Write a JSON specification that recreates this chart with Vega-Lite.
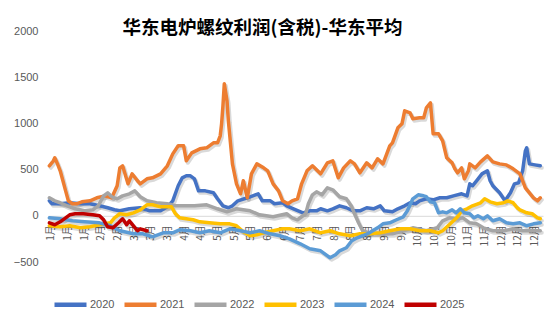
{
  "$schema": "https://vega.github.io/schema/vega-lite/v6.json",
  "width": 495,
  "height": 231,
  "autosize": {"type": "none"},
  "padding": {"left": 48, "top": 31, "right": 7, "bottom": 63},
  "background": "white",
  "title": {"text": "华东电炉螺纹利润(含税)-华东平均", "font": "Noto Sans CJK SC", "fontSize": 18.5, "fontWeight": "bold", "color": "#000000", "anchor": "middle", "dx": -33, "dy": 12, "offset": 0},
  "config": {"view": {"stroke": null}, "font": "Liberation Sans"},
  "data": {"values": [
    {"year":"2020","day":1,"value":162},{"year":"2020","day":3,"value":130},{"year":"2020","day":9,"value":130},{"year":"2020","day":16,"value":141},{"year":"2020","day":24,"value":130},{"year":"2020","day":31,"value":130},{"year":"2020","day":38,"value":108},{"year":"2020","day":44,"value":87},{"year":"2020","day":49,"value":65},{"year":"2020","day":53,"value":54},{"year":"2020","day":60,"value":76},{"year":"2020","day":68,"value":87},{"year":"2020","day":75,"value":54},{"year":"2020","day":83,"value":54},{"year":"2020","day":88,"value":97},{"year":"2020","day":92,"value":162},{"year":"2020","day":96,"value":325},{"year":"2020","day":99,"value":411},{"year":"2020","day":102,"value":433},{"year":"2020","day":105,"value":433},{"year":"2020","day":108,"value":400},{"year":"2020","day":111,"value":270},{"year":"2020","day":116,"value":270},{"year":"2020","day":122,"value":249},{"year":"2020","day":125,"value":184},{"year":"2020","day":129,"value":108},{"year":"2020","day":133,"value":87},{"year":"2020","day":136,"value":108},{"year":"2020","day":140,"value":162},{"year":"2020","day":147,"value":195},{"year":"2020","day":151,"value":216},{"year":"2020","day":155,"value":238},{"year":"2020","day":158,"value":162},{"year":"2020","day":164,"value":162},{"year":"2020","day":167,"value":130},{"year":"2020","day":173,"value":141},{"year":"2020","day":176,"value":108},{"year":"2020","day":181,"value":76},{"year":"2020","day":188,"value":32},{"year":"2020","day":193,"value":54},{"year":"2020","day":198,"value":54},{"year":"2020","day":201,"value":76},{"year":"2020","day":206,"value":54},{"year":"2020","day":210,"value":76},{"year":"2020","day":215,"value":108},{"year":"2020","day":220,"value":87},{"year":"2020","day":225,"value":54},{"year":"2020","day":230,"value":54},{"year":"2020","day":235,"value":87},{"year":"2020","day":240,"value":76},{"year":"2020","day":245,"value":108},{"year":"2020","day":248,"value":54},{"year":"2020","day":254,"value":43},{"year":"2020","day":258,"value":76},{"year":"2020","day":263,"value":108},{"year":"2020","day":267,"value":141},{"year":"2020","day":271,"value":130},{"year":"2020","day":274,"value":162},{"year":"2020","day":279,"value":184},{"year":"2020","day":284,"value":173},{"year":"2020","day":289,"value":195},{"year":"2020","day":294,"value":195},{"year":"2020","day":299,"value":216},{"year":"2020","day":305,"value":238},{"year":"2020","day":309,"value":216},{"year":"2020","day":311,"value":346},{"year":"2020","day":313,"value":325},{"year":"2020","day":316,"value":379},{"year":"2020","day":320,"value":454},{"year":"2020","day":324,"value":487},{"year":"2020","day":326,"value":379},{"year":"2020","day":328,"value":325},{"year":"2020","day":333,"value":249},{"year":"2020","day":337,"value":162},{"year":"2020","day":341,"value":249},{"year":"2020","day":344,"value":346},{"year":"2020","day":347,"value":357},{"year":"2020","day":350,"value":487},{"year":"2020","day":352,"value":703},{"year":"2020","day":353,"value":736},{"year":"2020","day":355,"value":562},{"year":"2020","day":359,"value":551},{"year":"2020","day":363,"value":541},
    {"year":"2021","day":1,"value":541},{"year":"2021","day":4,"value":595},{"year":"2021","day":5,"value":628},{"year":"2021","day":7,"value":562},{"year":"2021","day":9,"value":487},{"year":"2021","day":11,"value":379},{"year":"2021","day":13,"value":270},{"year":"2021","day":15,"value":162},{"year":"2021","day":18,"value":130},{"year":"2021","day":21,"value":130},{"year":"2021","day":25,"value":151},{"year":"2021","day":31,"value":162},{"year":"2021","day":36,"value":195},{"year":"2021","day":42,"value":216},{"year":"2021","day":47,"value":195},{"year":"2021","day":51,"value":325},{"year":"2021","day":53,"value":519},{"year":"2021","day":55,"value":541},{"year":"2021","day":59,"value":346},{"year":"2021","day":62,"value":454},{"year":"2021","day":66,"value":379},{"year":"2021","day":68,"value":346},{"year":"2021","day":73,"value":400},{"year":"2021","day":77,"value":411},{"year":"2021","day":83,"value":454},{"year":"2021","day":88,"value":541},{"year":"2021","day":92,"value":670},{"year":"2021","day":96,"value":757},{"year":"2021","day":100,"value":757},{"year":"2021","day":102,"value":595},{"year":"2021","day":106,"value":681},{"year":"2021","day":112,"value":725},{"year":"2021","day":117,"value":736},{"year":"2021","day":122,"value":790},{"year":"2021","day":125,"value":790},{"year":"2021","day":127,"value":866},{"year":"2021","day":128,"value":995},{"year":"2021","day":129,"value":1190},{"year":"2021","day":130,"value":1428},{"year":"2021","day":132,"value":1244},{"year":"2021","day":133,"value":1028},{"year":"2021","day":136,"value":562},{"year":"2021","day":139,"value":346},{"year":"2021","day":142,"value":238},{"year":"2021","day":144,"value":379},{"year":"2021","day":147,"value":195},{"year":"2021","day":150,"value":454},{"year":"2021","day":154,"value":562},{"year":"2021","day":159,"value":519},{"year":"2021","day":162,"value":487},{"year":"2021","day":166,"value":346},{"year":"2021","day":170,"value":270},{"year":"2021","day":173,"value":162},{"year":"2021","day":177,"value":130},{"year":"2021","day":180,"value":162},{"year":"2021","day":184,"value":184},{"year":"2021","day":187,"value":346},{"year":"2021","day":191,"value":487},{"year":"2021","day":195,"value":541},{"year":"2021","day":201,"value":454},{"year":"2021","day":206,"value":573},{"year":"2021","day":210,"value":595},{"year":"2021","day":214,"value":411},{"year":"2021","day":218,"value":519},{"year":"2021","day":223,"value":595},{"year":"2021","day":226,"value":562},{"year":"2021","day":230,"value":465},{"year":"2021","day":235,"value":573},{"year":"2021","day":239,"value":519},{"year":"2021","day":243,"value":617},{"year":"2021","day":247,"value":562},{"year":"2021","day":252,"value":757},{"year":"2021","day":254,"value":790},{"year":"2021","day":258,"value":952},{"year":"2021","day":261,"value":995},{"year":"2021","day":263,"value":1136},{"year":"2021","day":267,"value":1114},{"year":"2021","day":269,"value":1050},{"year":"2021","day":274,"value":1060},{"year":"2021","day":277,"value":1060},{"year":"2021","day":279,"value":1168},{"year":"2021","day":282,"value":1222},{"year":"2021","day":284,"value":887},{"year":"2021","day":288,"value":887},{"year":"2021","day":291,"value":811},{"year":"2021","day":294,"value":628},{"year":"2021","day":298,"value":573},{"year":"2021","day":300,"value":508},{"year":"2021","day":302,"value":465},{"year":"2021","day":305,"value":519},{"year":"2021","day":307,"value":400},{"year":"2021","day":310,"value":487},{"year":"2021","day":311,"value":562},{"year":"2021","day":315,"value":519},{"year":"2021","day":319,"value":584},{"year":"2021","day":324,"value":649},{"year":"2021","day":328,"value":584},{"year":"2021","day":333,"value":562},{"year":"2021","day":338,"value":551},{"year":"2021","day":343,"value":508},{"year":"2021","day":348,"value":454},{"year":"2021","day":352,"value":303},{"year":"2021","day":355,"value":249},{"year":"2021","day":358,"value":195},{"year":"2021","day":361,"value":162},{"year":"2021","day":363,"value":195},
    {"year":"2022","day":1,"value":195},{"year":"2022","day":5,"value":162},{"year":"2022","day":9,"value":141},{"year":"2022","day":14,"value":108},{"year":"2022","day":20,"value":76},{"year":"2022","day":27,"value":54},{"year":"2022","day":33,"value":65},{"year":"2022","day":37,"value":108},{"year":"2022","day":41,"value":216},{"year":"2022","day":44,"value":249},{"year":"2022","day":47,"value":206},{"year":"2022","day":51,"value":184},{"year":"2022","day":55,"value":216},{"year":"2022","day":60,"value":238},{"year":"2022","day":64,"value":270},{"year":"2022","day":68,"value":206},{"year":"2022","day":73,"value":162},{"year":"2022","day":80,"value":141},{"year":"2022","day":88,"value":130},{"year":"2022","day":94,"value":108},{"year":"2022","day":101,"value":108},{"year":"2022","day":108,"value":108},{"year":"2022","day":117,"value":119},{"year":"2022","day":125,"value":76},{"year":"2022","day":132,"value":43},{"year":"2022","day":139,"value":76},{"year":"2022","day":149,"value":54},{"year":"2022","day":156,"value":11},{"year":"2022","day":166,"value":-11},{"year":"2022","day":176,"value":22},{"year":"2022","day":180,"value":-22},{"year":"2022","day":184,"value":-43},{"year":"2022","day":190,"value":22},{"year":"2022","day":192,"value":130},{"year":"2022","day":195,"value":227},{"year":"2022","day":198,"value":260},{"year":"2022","day":202,"value":227},{"year":"2022","day":206,"value":303},{"year":"2022","day":210,"value":281},{"year":"2022","day":215,"value":206},{"year":"2022","day":220,"value":184},{"year":"2022","day":224,"value":97},{"year":"2022","day":226,"value":22},{"year":"2022","day":229,"value":-76},{"year":"2022","day":232,"value":-162},{"year":"2022","day":237,"value":-184},{"year":"2022","day":245,"value":-195},{"year":"2022","day":254,"value":-195},{"year":"2022","day":262,"value":-162},{"year":"2022","day":269,"value":-130},{"year":"2022","day":279,"value":-162},{"year":"2022","day":287,"value":-130},{"year":"2022","day":291,"value":-54},{"year":"2022","day":296,"value":-22},{"year":"2022","day":302,"value":-32},{"year":"2022","day":306,"value":-22},{"year":"2022","day":311,"value":-76},{"year":"2022","day":316,"value":-87},{"year":"2022","day":321,"value":-130},{"year":"2022","day":328,"value":-162},{"year":"2022","day":336,"value":-162},{"year":"2022","day":343,"value":-141},{"year":"2022","day":350,"value":-162},{"year":"2022","day":358,"value":-162},{"year":"2022","day":363,"value":-162},
    {"year":"2023","day":1,"value":-108},{"year":"2023","day":9,"value":-119},{"year":"2023","day":16,"value":-108},{"year":"2023","day":24,"value":-130},{"year":"2023","day":31,"value":-119},{"year":"2023","day":38,"value":-97},{"year":"2023","day":46,"value":-76},{"year":"2023","day":49,"value":-22},{"year":"2023","day":53,"value":22},{"year":"2023","day":58,"value":11},{"year":"2023","day":63,"value":32},{"year":"2023","day":68,"value":65},{"year":"2023","day":73,"value":119},{"year":"2023","day":77,"value":119},{"year":"2023","day":83,"value":97},{"year":"2023","day":88,"value":97},{"year":"2023","day":91,"value":97},{"year":"2023","day":94,"value":22},{"year":"2023","day":97,"value":-22},{"year":"2023","day":102,"value":-32},{"year":"2023","day":107,"value":-43},{"year":"2023","day":112,"value":-65},{"year":"2023","day":119,"value":-76},{"year":"2023","day":127,"value":-87},{"year":"2023","day":134,"value":-87},{"year":"2023","day":139,"value":-108},{"year":"2023","day":144,"value":-173},{"year":"2023","day":149,"value":-216},{"year":"2023","day":154,"value":-206},{"year":"2023","day":159,"value":-184},{"year":"2023","day":166,"value":-162},{"year":"2023","day":173,"value":-141},{"year":"2023","day":178,"value":-141},{"year":"2023","day":186,"value":-162},{"year":"2023","day":193,"value":-141},{"year":"2023","day":201,"value":-184},{"year":"2023","day":208,"value":-162},{"year":"2023","day":215,"value":-195},{"year":"2023","day":223,"value":-216},{"year":"2023","day":230,"value":-195},{"year":"2023","day":237,"value":-195},{"year":"2023","day":245,"value":-184},{"year":"2023","day":252,"value":-162},{"year":"2023","day":260,"value":-141},{"year":"2023","day":267,"value":-141},{"year":"2023","day":274,"value":-162},{"year":"2023","day":282,"value":-162},{"year":"2023","day":288,"value":-184},{"year":"2023","day":291,"value":-162},{"year":"2023","day":295,"value":-108},{"year":"2023","day":299,"value":-54},{"year":"2023","day":302,"value":-11},{"year":"2023","day":305,"value":54},{"year":"2023","day":309,"value":76},{"year":"2023","day":313,"value":108},{"year":"2023","day":319,"value":141},{"year":"2023","day":322,"value":184},{"year":"2023","day":326,"value":151},{"year":"2023","day":331,"value":130},{"year":"2023","day":336,"value":141},{"year":"2023","day":339,"value":162},{"year":"2023","day":343,"value":141},{"year":"2023","day":346,"value":87},{"year":"2023","day":348,"value":65},{"year":"2023","day":353,"value":32},{"year":"2023","day":357,"value":22},{"year":"2023","day":361,"value":-22},{"year":"2023","day":363,"value":-32},
    {"year":"2024","day":1,"value":-22},{"year":"2024","day":9,"value":-32},{"year":"2024","day":18,"value":-54},{"year":"2024","day":27,"value":-65},{"year":"2024","day":38,"value":-76},{"year":"2024","day":46,"value":-108},{"year":"2024","day":53,"value":-162},{"year":"2024","day":63,"value":-195},{"year":"2024","day":70,"value":-195},{"year":"2024","day":77,"value":-227},{"year":"2024","day":85,"value":-184},{"year":"2024","day":92,"value":-184},{"year":"2024","day":97,"value":-152},{"year":"2024","day":105,"value":-162},{"year":"2024","day":112,"value":-184},{"year":"2024","day":119,"value":-162},{"year":"2024","day":127,"value":-184},{"year":"2024","day":134,"value":-141},{"year":"2024","day":142,"value":-162},{"year":"2024","day":149,"value":-184},{"year":"2024","day":156,"value":-162},{"year":"2024","day":164,"value":-195},{"year":"2024","day":171,"value":-216},{"year":"2024","day":178,"value":-249},{"year":"2024","day":186,"value":-303},{"year":"2024","day":193,"value":-357},{"year":"2024","day":201,"value":-379},{"year":"2024","day":208,"value":-454},{"year":"2024","day":212,"value":-422},{"year":"2024","day":215,"value":-379},{"year":"2024","day":220,"value":-346},{"year":"2024","day":224,"value":-270},{"year":"2024","day":228,"value":-238},{"year":"2024","day":232,"value":-216},{"year":"2024","day":237,"value":-184},{"year":"2024","day":243,"value":-130},{"year":"2024","day":247,"value":-87},{"year":"2024","day":252,"value":-76},{"year":"2024","day":257,"value":-43},{"year":"2024","day":262,"value":-11},{"year":"2024","day":265,"value":54},{"year":"2024","day":269,"value":184},{"year":"2024","day":273,"value":227},{"year":"2024","day":277,"value":216},{"year":"2024","day":279,"value":206},{"year":"2024","day":282,"value":151},{"year":"2024","day":285,"value":141},{"year":"2024","day":288,"value":32},{"year":"2024","day":291,"value":43},{"year":"2024","day":294,"value":32},{"year":"2024","day":298,"value":65},{"year":"2024","day":301,"value":32},{"year":"2024","day":304,"value":76},{"year":"2024","day":307,"value":32},{"year":"2024","day":311,"value":22},{"year":"2024","day":314,"value":-22},{"year":"2024","day":317,"value":0},{"year":"2024","day":321,"value":-32},{"year":"2024","day":324,"value":0},{"year":"2024","day":328,"value":-54},{"year":"2024","day":333,"value":-32},{"year":"2024","day":338,"value":-76},{"year":"2024","day":343,"value":-87},{"year":"2024","day":348,"value":-76},{"year":"2024","day":353,"value":-108},{"year":"2024","day":358,"value":-87},{"year":"2024","day":363,"value":-76},
    {"year":"2025","day":1,"value":-76},{"year":"2025","day":5,"value":-97},{"year":"2025","day":9,"value":-65},{"year":"2025","day":13,"value":-22},{"year":"2025","day":16,"value":11},{"year":"2025","day":20,"value":22},{"year":"2025","day":26,"value":22},{"year":"2025","day":33,"value":11},{"year":"2025","day":38,"value":0},{"year":"2025","day":41,"value":-43},{"year":"2025","day":44,"value":-119},{"year":"2025","day":48,"value":-130},{"year":"2025","day":52,"value":-76},{"year":"2025","day":55,"value":-32},{"year":"2025","day":58,"value":-97},{"year":"2025","day":60,"value":-54},{"year":"2025","day":63,"value":-108},{"year":"2025","day":66,"value":-162},{"year":"2025","day":68,"value":-141},{"year":"2025","day":73,"value":-162}
  ]},
  "encoding": {
    "x": {"field": "day", "type": "quantitative", "scale": {"domain": [0, 365], "nice": false, "zero": false},
      "axis": {"orient": "bottom", "offset": -46.2, "title": null, "grid": false, "ticks": false, "domainColor": "#d9d9d9", "domainWidth": 1,
        "values": [2, 14.3, 26.6, 38.9, 51.2, 63.5, 75.8, 88.1, 100.4, 112.7, 125, 137.3, 149.6, 161.9, 174.2, 186.5, 198.8, 211.1, 223.4, 235.7, 248, 260.3, 272.6, 284.9, 297.2, 309.5, 321.8, 334.1, 346.4, 358.7],
        "labelExpr": "['1月','1月','1月','2月','2月','3月','3月','3月','4月','4月','5月','5月','5月','6月','6月','7月','7月','8月','8月','8月','9月','9月','10月','10月','10月','11月','11月','12月','12月','12月'][round((datum.value-2)/12.3)]",
        "labelAngle": 270, "labelFont": "Noto Sans CJK SC", "labelFontSize": 10, "labelColor": "#595959", "labelPadding": 9, "labelOverlap": false, "labelBound": false, "labelFlush": false}},
    "y": {"field": "value", "type": "quantitative", "scale": {"domain": [-500, 2000], "nice": false},
      "axis": {"values": [-500, 0, 500, 1000, 1500, 2000], "format": "d", "title": null, "grid": false, "domain": false, "ticks": false, "labelColor": "#595959", "labelFontSize": 11, "labelPadding": 10}}
  },
  "layer": [
    {
      "mark": {"type": "line", "strokeWidth": 4, "strokeJoin": "round", "strokeCap": "round", "color": "#000000", "opacity": 0.15, "xOffset": 1.5, "yOffset": 2},
      "encoding": {"detail": {"field": "year", "type": "nominal"}}
    },
    {
      "mark": {"type": "line", "strokeWidth": 3.5, "strokeJoin": "round", "strokeCap": "round"},
      "encoding": {
        "color": {"field": "year", "type": "nominal",
          "scale": {"domain": ["2020", "2021", "2022", "2023", "2024", "2025"], "range": ["#4472C4", "#ED7D31", "#A5A5A5", "#FFC000", "#5B9BD5", "#C00000"]},
          "legend": {"orient": "none", "legendX": 4, "legendY": 255, "direction": "horizontal", "title": null, "symbolType": "stroke", "symbolStrokeWidth": 4.5, "symbolSize": 1024, "labelFontSize": 11, "labelColor": "#595959", "labelOffset": 1, "columnPadding": 0}}
      }
    }
  ]
}
